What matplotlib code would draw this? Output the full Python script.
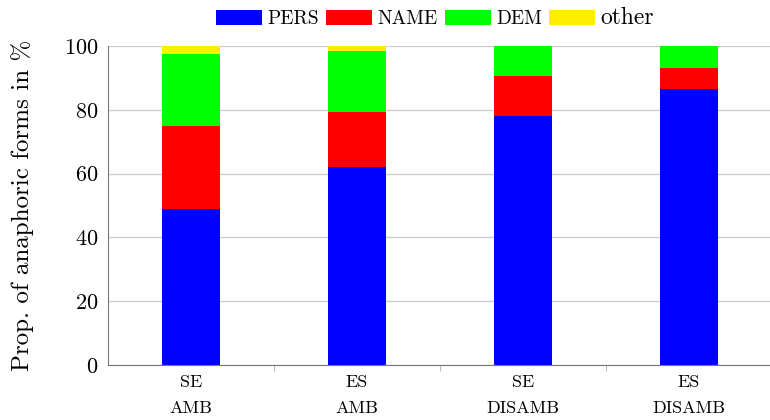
import matplotlib.pyplot as plt
import numpy as np

plt.rcParams['font.family'] = ['cmr10', 'DejaVu Serif']
plt.rcParams['mathtext.fontset'] = 'cm'
plt.rcParams['axes.formatter.use_mathtext'] = True

# proportions per condition (%)
conditions = ['SE\nAMB', 'ES\nAMB', 'SE\nDISAMB', 'ES\nDISAMB']
pers = [49.0, 62.1, 78.1, 86.5]
name = [26.0, 17.2, 12.4, 6.8]
dem = [22.7, 19.3, 9.5, 6.7]
other = [2.3, 1.4, 0.0, 0.0]

labels = ['PERS', 'NAME', 'DEM', 'other']
colors = ['#0000ff', '#ff0000', '#00ff00', '#ffee00']

fig = plt.figure(figsize=(7.7, 4.2), dpi=100)
ax = fig.add_axes([0.140, 0.131, 0.862, 0.759])

x = np.arange(len(conditions))
bottom = np.zeros(len(conditions))
handles = []
for vals, lab, col in zip([pers, name, dem, other], labels, colors):
    h = ax.bar(x, vals, width=0.35, bottom=bottom, color=col, label=lab,
               zorder=2)
    handles.append(h)
    bottom += np.array(vals)

ax.set_xlim(-0.5, 3.5)
ax.set_ylim(0, 100)
ax.set_yticks([0, 20, 40, 60, 80, 100])
ax.set_xticks(x)
ax.set_xticklabels(conditions, fontsize=13, linespacing=1.9)
ax.set_xticks([0.5, 1.5, 2.5], minor=True)
ax.tick_params(axis='x', which='major', length=0, pad=7)
ax.tick_params(axis='x', which='minor', length=4, color='#aaaaaa')
ax.tick_params(axis='y', labelsize=16, length=0, pad=7)
ax.yaxis.grid(True, color='#cccccc', lw=0.9, zorder=0)
ax.set_axisbelow(True)
ax.spines['top'].set_visible(False)
ax.spines['right'].set_visible(False)
ax.spines['left'].set_color('#777777')
ax.spines['bottom'].set_color('#777777')
ax.set_ylabel('Prop. of anaphoric forms in %', fontsize=18, labelpad=21)

leg = fig.legend(handles=handles, labels=labels, loc='upper center',
                 bbox_to_anchor=(0.565, 1.025), ncol=4, frameon=False,
                 handlelength=2.35, handleheight=0.85, handletextpad=0.28,
                 columnspacing=0.38, fontsize=14)
leg.get_texts()[3].set_fontsize(17)

fig.savefig('out.png', dpi=100)
